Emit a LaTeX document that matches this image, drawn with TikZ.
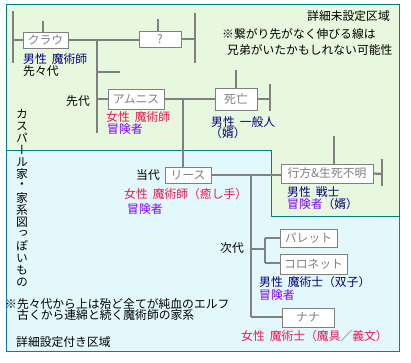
\documentclass[tikz,border=0pt]{standalone}
\usepackage{fontspec}
\setmainfont{Noto Sans CJK JP}
\newfontfamily\vfont[RawFeature=+vert]{Noto Sans CJK JP}
\definecolor{lineg}{RGB}{128,128,128}
\definecolor{greenbg}{RGB}{232,248,222}
\definecolor{bluebg}{RGB}{226,248,252}
\definecolor{tealb}{RGB}{0,128,128}
\definecolor{blueb}{RGB}{20,110,215}
\definecolor{navyt}{RGB}{0,0,128}
\definecolor{redt}{RGB}{240,20,80}
\definecolor{purt}{RGB}{128,0,255}
\newcommand\hs{\hspace{5pt}}
\tikzset{
  ln/.style={draw=lineg, line width=2.2pt},
  bx/.style={draw=lineg, line width=1pt, fill=white, text=lineg, inner sep=0pt, font=\fontsize{11.8}{12}\selectfont},
  lb/.style={anchor=west, inner sep=0pt, font=\fontsize{11.8}{12}\selectfont},
  vt/.style={inner sep=0pt, font=\vfont\fontsize{11.8}{12}\selectfont}
}
\begin{document}
\begin{tikzpicture}[x=1pt,y=-1pt]
\useasboundingbox (0,0) rectangle (411,362);
\fill[white] (0,0) rectangle (411,362);
% regions
\fill[bluebg] (6,150) -- (271,150) -- (271,216) -- (399,216) -- (399,351) -- (6,351) -- cycle;
\fill[greenbg] (6,4) -- (399,4) -- (399,216) -- (271,216) -- (271,150) -- (6,150) -- cycle;
\draw[blueb, line width=1pt] (6,150) -- (6,351) -- (399,351) -- (399,216);
\draw[tealb, line width=1pt] (6,150) -- (6,4) -- (399,4) -- (399,216) -- (271,216) -- (271,150) -- (6,150);

% corner notes
\node[lb] (n1) at (307,16) {詳細未設定区域};
\node[lb] (n2) at (222,34) {※繋がり先がなく伸びる線は};
\node[lb] (n3) at (227,50) {兄弟がいたかもしれない可能性};
\node[lb] (n4) at (5,304) {※先々代から上は殆ど全てが純血のエルフ};
\node[lb] (n5) at (17,315) {古くから連綿と続く魔術師の家系};
\node[lb] (n6) at (16,342) {詳細設定付き区域};

% vertical title
\foreach \c [count=\i from 0] in {カ,ス,パ,ー,ル,家,・,家,系,図,っ,ぽ,い,も,の}
  \node[vt] (v\i) at (22,114+12*\i) {\c};

% coordinates
\coordinate (a1) at (13,11);
\coordinate (a2) at (13,63);
\coordinate (a3) at (13,40);
\coordinate (a4) at (43,21);
\coordinate (b1) at (158,19);
\coordinate (b2) at (195,13);
\coordinate (b3) at (195,63);
\coordinate (b4) at (195,39);
\coordinate (c1) at (97,40);
\coordinate (c2) at (97,133);
\coordinate (c3) at (97,72);
\coordinate (c4) at (120,72);
\coordinate (c5) at (97,99);
\coordinate (d1) at (183,99);
\coordinate (d2) at (236,70);
\coordinate (d3) at (270,84);
\coordinate (d4) at (270,111);
\coordinate (d5) at (270,99);
\coordinate (e1) at (251,175);
\coordinate (e2) at (334,136);
\coordinate (e3) at (382,159);
\coordinate (e4) at (382,186);
\coordinate (e5) at (382,174);
\coordinate (f1) at (251,317);
\coordinate (f2) at (251,249);
\coordinate (f3) at (265,249);
\coordinate (f4) at (265,238);
\coordinate (f5) at (265,263);

% boxes
\node[bx, minimum width=45pt, minimum height=16pt] (kurau) at (45.5,40) {クラウ};
\node[bx, minimum width=42pt, minimum height=16pt] (q) at (160,39) {?};
\node[bx, minimum width=56pt, minimum height=20pt] (amu) at (136,99) {アムニス};
\node[bx, minimum width=42pt, minimum height=22pt] (shibo) at (236,99) {死亡};
\node[bx, minimum width=46pt, minimum height=16pt] (riisu) at (188,175) {リース};
\node[bx, minimum width=92pt, minimum height=19pt] (yuku) at (327,173.5) {行方\&生死不明};
\node[bx, minimum width=57pt, minimum height=18pt] (pare) at (308.5,238) {パレット};
\node[bx, minimum width=67pt, minimum height=20pt] (koro) at (313.5,264) {コロネット};
\node[bx, minimum width=52pt, minimum height=19pt] (nana) at (308,317.5) {ナナ};

% lines (drawn behind boxes)
\begin{scope}[on background layer/.try]
\end{scope}
\draw[ln] (a1) -- (a2);
\draw[ln] (a3) -- (kurau.west);
\draw[ln] (a4) -- (kurau.north -| a4);
\draw[ln] (kurau.east) -- (q.west |- kurau.east);
\draw[ln] (b1) -- (q.north -| b1);
\draw[ln] (q.east) -- (b4);
\draw[ln] (b2) -- (b3);
\draw[ln] (c1) -- (c2);
\draw[ln] (c3) -- (c4);
\draw[ln] (c5) -- (amu.west);
\draw[ln] (amu.east) -- (shibo.west);
\draw[ln] (d1) -- (riisu.north -| d1);
\draw[ln] (d2) -- (shibo.north);
\draw[ln] (shibo.east) -- (d5);
\draw[ln] (d3) -- (d4);
\draw[ln] (riisu.east) -- (yuku.west |- riisu.east);
\draw[ln] (e2) -- (yuku.north -| e2);
\draw[ln] (yuku.east) -- (e5);
\draw[ln] (e3) -- (e4);
\draw[ln] (e1) -- (f1);
\draw[ln] (f2) -- (f3);
\draw[ln] (f4) -- (f5);
\draw[ln] (f4) -- (pare.west);
\draw[ln] (f5) -- (koro.west |- f5);
\draw[ln] (f1) -- (nana.west |- f1);

% labels
\node[lb, text=navyt] (t1) at (23,59) {男性\hs 魔術師};
\node[lb] (t2) at (23,71) {先々代};
\node[lb] (t3) at (66,101) {先代};
\node[lb, text=redt] (t4) at (106,117) {女性\hs 魔術師};
\node[lb, text=purt] (t5) at (107,129) {冒険者};
\node[lb, text=navyt] (t6) at (211,122) {男性\hs 一般人};
\node[lb, text=navyt] (t7) at (210,133) {（婿）};
\node[lb] (t8) at (136,175) {当代};
\node[lb, text=redt] (t9) at (124,194) {女性\hs 魔術師（癒し手）};
\node[lb, text=purt] (t10) at (127,209) {冒険者};
\node[lb, text=navyt] (t11) at (287,192) {男性\hs 戦士};
\node[lb] (t12) at (287,204) {\textcolor{purt}{冒険者}\textcolor{navyt}{（婿）}};
\node[lb] (t13) at (220,248) {次代};
\node[lb, text=navyt] (t14) at (259,282) {男性\hs 魔術士（双子）};
\node[lb, text=purt] (t15) at (259,295) {冒険者};
\node[lb, text=redt] (t16) at (241,336) {女性\hs 魔術士（魔具／義文）};
\end{tikzpicture}
\end{document}
